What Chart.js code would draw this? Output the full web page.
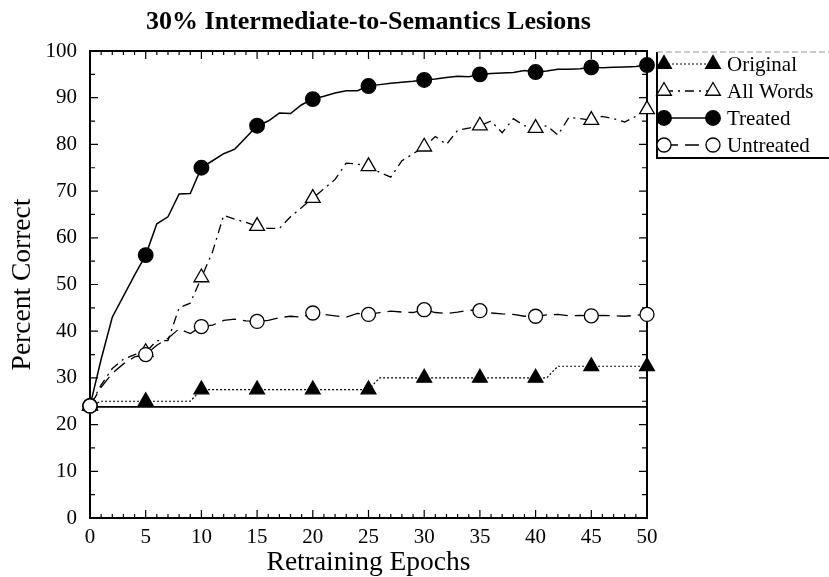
<!DOCTYPE html>
<html><head><meta charset="utf-8">
<script src="https://cdn.jsdelivr.net/npm/chart.js@4/dist/chart.umd.min.js"></script>
<style>html,body{margin:0;padding:0;background:#fff}#wrap{width:829px;height:577px;position:relative}</style>
</head><body><div id="wrap"><canvas id="c" width="829" height="577"></canvas></div>
<script>
const titleText = '30% Intermediate-to-Semantics Lesions';
const xTitle = 'Retraining Epochs';
const yTitle = 'Percent Correct';
const seriesNames = ['Original', 'All Words', 'Treated', 'Untreated'];
const epochs = [0,1,2,3,4,5,6,7,8,9,10,11,12,13,14,15,16,17,18,19,20,21,22,23,24,25,26,27,28,29,30,31,32,33,34,35,36,37,38,39,40,41,42,43,44,45,46,47,48,49,50];
const original = [24,25,25,25,25,25,25,25,25,25,27.5,27.5,27.5,27.5,27.5,27.5,27.5,27.5,27.5,27.5,27.5,27.5,27.5,27.5,27.5,27.5,30,30,30,30,30,30,30,30,30,30,30,30,30,30,30,30,32.5,32.5,32.5,32.5,32.5,32.5,32.5,32.5,32.5];
const allWords = [24,28.5,32,34,35,35.5,38,38,45,46,51.5,57,64.8,64,63.3,62.5,62,62,64.5,66.5,68.5,70.5,72.5,76,75.8,75.3,74,73,76.5,78,79.5,81.7,80,83,83.5,84,85,82.5,85.5,84,83.5,84,82,85.8,85.5,85.2,86,85.5,84.8,86,87.5];
const treated = [24,34,43,47.5,52,56.3,63,64.5,69.4,69.5,75,76.5,78,79,81.5,84,85,86.7,86.6,88.5,89.7,90.3,91,91.5,91.5,92.5,92.8,93.1,93.3,93.5,93.8,94,94.3,94.6,94.5,95,95.2,95.3,95.4,95.8,95.5,95.7,96.1,96.1,96.2,96.5,96.4,96.5,96.6,96.7,97];
const untreated = [24,28,31,33,34.5,35,37,38.5,40.5,39.5,41,41.3,42.3,42.6,42.2,42.1,42.3,42.9,43.2,43,43.9,43.6,43.3,43,43.8,43.6,44,44.3,44.1,44,44.6,44,43.8,44.1,44.5,44.4,43.9,43.7,43.6,43.2,43.2,43.5,43.6,43.3,43.4,43.3,43.4,43.3,43.2,43.4,43.6];
const baselineLevel = 23.8;
const xRange = [0, 50];
const yRange = [0, 100];
const xStep = 5;
const yStep = 10;
const markerEvery = 5;

const toXY = vals => vals.map((v, i) => ({x: epochs[i], y: v}));
const markerRadius = r => ctx => (ctx.raw && ctx.raw.x % markerEvery === 0) ? r : 0;
const SERIF = '"Liberation Serif", "DejaVu Serif", serif';

const styles = {
  'Original':  {dash: [2, 2], width: 1.2, marker: 'triangle', filled: true, r: 8.5},
  'All Words': {dash: [9, 5, 2, 5], width: 1.3, marker: 'triangle', filled: false, r: 8.5},
  'Treated':   {dash: [], width: 1.5, marker: 'circle', filled: true, r: 7.3},
  'Untreated': {dash: [14, 7], width: 1.3, marker: 'circle', filled: false, r: 7}
};
function ds(name, vals) {
  const s = styles[name];
  return {
    label: name, data: toXY(vals), borderColor: '#000', borderWidth: s.width, borderDash: s.dash,
    pointStyle: s.marker, pointRadius: markerRadius(s.r), pointHoverRadius: markerRadius(s.r),
    pointBackgroundColor: s.filled ? '#000' : '#fff', pointBorderColor: '#000', pointBorderWidth: 1.3,
    tension: 0, clip: false, fill: false
  };
}

const framePlugin = {
  id: 'frame',
  beforeDatasetsDraw(chart) {
    const {ctx, chartArea: a, scales: {x, y}} = chart;
    ctx.save();
    ctx.strokeStyle = '#000';
    ctx.lineWidth = 1.2;
    ctx.beginPath();
    for (let v = xRange[0]; v <= xRange[1]; v += 1) {
      const px = x.getPixelForValue(v);
      const len = v % xStep === 0 ? 8 : 4;
      ctx.moveTo(px, a.bottom); ctx.lineTo(px, a.bottom - len);
      ctx.moveTo(px, a.top); ctx.lineTo(px, a.top + len);
    }
    for (let v = yRange[0]; v <= yRange[1]; v += yStep / 2) {
      const py = y.getPixelForValue(v);
      const len = v % yStep === 0 ? 8 : 5;
      ctx.moveTo(a.left, py); ctx.lineTo(a.left + len, py);
      ctx.moveTo(a.right, py); ctx.lineTo(a.right - len, py);
    }
    ctx.stroke();
    ctx.lineWidth = 2;
    ctx.strokeRect(a.left, a.top, a.right - a.left, a.bottom - a.top);
    ctx.restore();
  },
  afterDraw(chart) {
    const {ctx, chartArea: a} = chart;
    ctx.save();
    ctx.fillStyle = '#000';
    ctx.font = 'bold 26px ' + SERIF;
    ctx.textAlign = 'center';
    ctx.textBaseline = 'middle';
    ctx.fillText(titleText, (a.left + a.right) / 2, 22);
    // legend
    const bx = 657, by = 52, bb = 158;
    ctx.strokeStyle = '#000';
    ctx.lineWidth = 2;
    ctx.beginPath();
    ctx.moveTo(bx, by); ctx.lineTo(bx, bb); ctx.lineTo(829, bb);
    ctx.stroke();
    ctx.lineWidth = 1;
    ctx.strokeStyle = '#999';
    ctx.setLineDash([6, 3]);
    ctx.beginPath(); ctx.moveTo(bx, by); ctx.lineTo(829, by); ctx.stroke();
    ctx.setLineDash([]);
    seriesNames.forEach((name, i) => {
      const s = styles[name];
      const ly = 64 + i * 27;
      const x1 = 664, x2 = 713;
      ctx.strokeStyle = '#000';
      ctx.lineWidth = s.width;
      ctx.setLineDash(s.dash);
      ctx.beginPath(); ctx.moveTo(x1, ly); ctx.lineTo(x2, ly); ctx.stroke();
      ctx.setLineDash([]);
      [x1, x2].forEach(px => {
        ctx.beginPath();
        if (s.marker === 'circle') {
          ctx.arc(px, ly, s.r, 0, Math.PI * 2);
        } else {
          const r = s.r, w = r * Math.sin(Math.PI / 3);
          ctx.moveTo(px, ly - r); ctx.lineTo(px + w, ly + r / 2); ctx.lineTo(px - w, ly + r / 2); ctx.closePath();
        }
        ctx.fillStyle = s.filled ? '#000' : '#fff';
        ctx.fill();
        ctx.lineWidth = 1.3;
        ctx.stroke();
      });
      ctx.fillStyle = '#000';
      ctx.font = '21px ' + SERIF;
      ctx.textAlign = 'left';
      ctx.textBaseline = 'middle';
      ctx.fillText(name, 727, ly + 1);
    });
    ctx.restore();
  }
};

new Chart(document.getElementById('c'), {
  type: 'line',
  data: {
    datasets: [
      ds('Untreated', untreated),
      ds('Treated', treated),
      ds('All Words', allWords),
      ds('Original', original),
      {label: 'baseline', data: [{x: xRange[0], y: baselineLevel}, {x: xRange[1], y: baselineLevel}],
       borderColor: '#000', borderWidth: 1.6, pointRadius: 0, tension: 0, clip: false}
    ]
  },
  options: {
    responsive: false, animation: false, devicePixelRatio: 1,
    layout: {padding: {top: 51, right: 182, left: 0, bottom: 0}},
    plugins: {legend: {display: false}, title: {display: false}, tooltip: {enabled: false}},
    scales: {
      x: {
        type: 'linear', min: xRange[0], max: xRange[1],
        grid: {display: false, drawTicks: false}, border: {display: false},
        ticks: {stepSize: xStep, color: '#000', font: {family: SERIF, size: 21}, padding: 7, maxRotation: 0},
        title: {display: true, text: xTitle, color: '#000', font: {family: SERIF, size: 27.5}, padding: {top: 0, bottom: -2}},
        afterFit: s => { s.height = 59; }
      },
      y: {
        type: 'linear', min: yRange[0], max: yRange[1],
        grid: {display: false, drawTicks: false}, border: {display: false},
        ticks: {stepSize: yStep, color: '#000', font: {family: SERIF, size: 21}, padding: 13},
        title: {display: true, text: yTitle, color: '#000', font: {family: SERIF, size: 27.5}, padding: {top: 6, bottom: 0}},
        afterFit: s => { s.width = 90; }
      }
    }
  },
  plugins: [framePlugin]
});
</script></body></html>
